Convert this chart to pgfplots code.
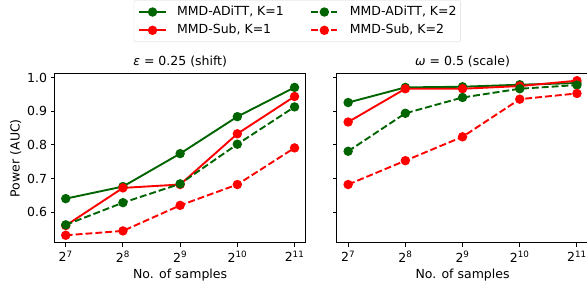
\documentclass[border=0pt]{standalone}
\usepackage{pgfplots}
\pgfplotsset{compat=1.18}
\usepackage{fontspec}
\setmainfont{DejaVu Sans}
\definecolor{dgreen}{RGB}{0,100,0}
\begin{document}
\begin{tikzpicture}[font=\fontsize{12.5}{15}\selectfont]
\pgfplotsset{
  base/.style={
    width=251.7pt, height=169.7pt, scale only axis,
    xmin=6.8, xmax=11.2, ymin=0.508, ymax=1.013,
    xtick={7,8,9,10,11},
    xticklabels={2\textsuperscript{7},2\textsuperscript{8},2\textsuperscript{9},2\textsuperscript{10},2\textsuperscript{11}},
    xticklabel style={yshift=-1pt},
    ytick={0.6,0.7,0.8,0.9,1.0},
    yticklabel style={/pgf/number format/.cd,fixed,fixed zerofill,precision=1},
    /pgf/number format/assume math mode=true,
    tick align=outside, xtick pos=bottom, ytick pos=left,
    major tick length=3.7pt,
    every tick/.style={black, line width=1pt},
    axis line style={line width=1pt},
    xlabel={No. of samples},
    xlabel style={yshift=0pt},
    title style={yshift=-3pt},
    every axis plot/.append style={line width=1.9pt, mark=*, mark size=3.7pt, mark options={solid}},
  },
  gs/.style={color=dgreen},
  rs/.style={color=red},
  gd/.style={color=dgreen, dash pattern=on 6.9pt off 3pt},
  rd/.style={color=red, dash pattern=on 6.9pt off 3pt},
}
\path[use as bounding box] (-54.3pt,-43pt) rectangle (532.7pt,243pt);
\begin{axis}[base, at={(0,0)}, anchor=south west,
  ylabel={Power (AUC)},
  ylabel style={yshift=-1pt},
  title={{\itshape ε} = 0.25 (shift)},
  legend columns=2, transpose legend,
  legend style={at={(0.9655,1.430)}, anchor=north, draw=black!15, rounded corners=2pt,
    inner xsep=4pt, inner ysep=5.5pt, row sep=6.3pt,
    nodes={inner sep=0pt, text height=9.5pt, text depth=2.5pt},
    /tikz/column 1/.style={column sep=10pt},
    /tikz/column 2/.style={column sep=26pt},
    /tikz/column 3/.style={column sep=11pt}},
  legend cell align=left,
  legend image code/.code={\draw[#1, mark repeat=2, mark phase=2] plot coordinates {(0pt,0pt) (13.6pt,0pt) (27.2pt,0pt)};},
]
\addplot[gs] coordinates {(7,0.640) (8,0.676) (9,0.774) (10,0.884) (11,0.971)};
\addlegendentry{MMD-ADiTT, K=1}
\addplot[rs] coordinates {(7,0.560) (8,0.672) (9,0.682) (10,0.833) (11,0.944)};
\addlegendentry{MMD-Sub, K=1}
\addplot[gd] coordinates {(7,0.562) (8,0.628) (9,0.684) (10,0.802) (11,0.913)};
\addlegendentry{MMD-ADiTT, K=2}
\addplot[rd] coordinates {(7,0.531) (8,0.544) (9,0.620) (10,0.682) (11,0.791)};
\addlegendentry{MMD-Sub, K=2}
\end{axis}
\begin{axis}[base, at={(282.4pt,0)}, anchor=south west,
  yticklabels={},
  title={{\itshape ω} = 0.5 (scale)},
]
\addplot[gs] coordinates {(7,0.926) (8,0.971) (9,0.973) (10,0.979) (11,0.984)};
\addplot[rs] coordinates {(7,0.868) (8,0.967) (9,0.967) (10,0.975) (11,0.991)};
\addplot[gd] coordinates {(7,0.781) (8,0.894) (9,0.941) (10,0.967) (11,0.978)};
\addplot[rd] coordinates {(7,0.682) (8,0.753) (9,0.824) (10,0.936) (11,0.953)};
\end{axis}
\end{tikzpicture}
\end{document}
